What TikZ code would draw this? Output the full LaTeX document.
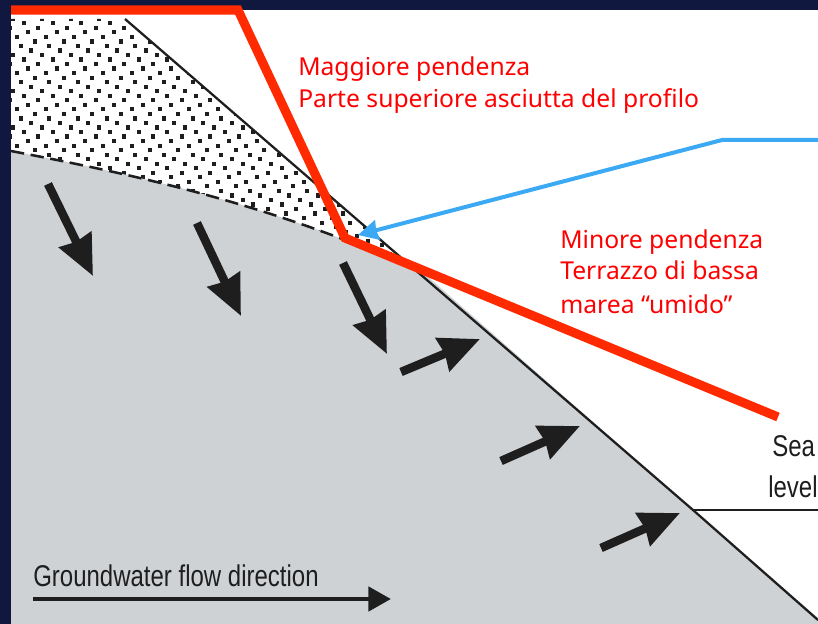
\documentclass[tikz,border=0pt]{standalone}
\usepackage{fontspec}
\setmainfont{Liberation Sans}
\newfontfamily\slidefont{Noto Sans}
\newfontfamily\printfont[FakeStretch=0.80]{Liberation Sans}
\usetikzlibrary{arrows.meta}
\definecolor{navy}{HTML}{10183F}
\definecolor{ground}{HTML}{CFD2D5}
\definecolor{inkblack}{HTML}{1E1E1E}
\definecolor{profile}{HTML}{FF2A00}
\definecolor{pointer}{HTML}{3CA9F4}
\tikzset{
  flow/.style={draw=inkblack,line width=6.4pt,-{Stealth[length=30pt,width=26pt,inset=1.5pt]}},
  legendflow/.style={draw=inkblack,line width=3.6pt,-{Stealth[length=17pt,width=18pt,inset=0pt]}},
  redlabel/.style={text=red,anchor=base west,font=\slidefont\fontsize{18.5}{23}\selectfont,inner sep=0pt},
  printlabel/.style={text=inkblack,anchor=base west,inner sep=0pt,font=\printfont\fontsize{22.5}{24}\selectfont},
}
\begin{document}
\begin{tikzpicture}[x=0.75pt,y=-0.75pt]
\useasboundingbox (0,0) rectangle (818,624);
\fill[navy] (0,0) rectangle (818,624);
\fill[white] (11,10) rectangle (818,624);

% Sand above the water table: halftone of square grains, eight-row repeat
\begin{scope}
  \clip (11,19) -- (125,19) -- (345,210) -- (420,272) -- (345,245) -- (11,150) -- cycle;
  \foreach \j in {-1,...,52}{
    \pgfmathsetmacro{\rowoff}{{24.0,9.67,28.0,17.0,6.33,20.67,2.33,13.33}[int(mod(\j+8,8))]}
    \pgfmathsetmacro{\py}{23.3+4.53*\j}
    \foreach \i in {-1,...,15}{
      \pgfmathsetmacro{\px}{\rowoff+28.67*\i}
      \fill[inkblack] (\px-2.1,\py-2.1) rectangle (\px+2.1,\py+2.1);
    }
  }
\end{scope}

% Saturated beach body
\fill[ground] (11,151) .. controls (110,170) and (225,194) .. (345,240)
  -- (418,268) -- (693,510) -- (818,618) -- (818,624) -- (11,624) -- cycle;

% Water table, beach face and sea level
\draw[inkblack,line width=1.9pt,dash pattern=on 10pt off 5pt]
  (11,151) .. controls (110,170) and (225,194) .. (345,240);
\coordinate (crest) at (125,19);
\coordinate (shore) at (693,510);
\coordinate (toe) at (818,620);
\coordinate (seaend) at (818,510);
\draw[inkblack,line width=1.7pt] (crest) -- (shore) -- (toe);
\draw[inkblack,line width=1.7pt] (shore) -- (seaend);

% Groundwater flow arrows
\draw[flow] (48,184) -- (93,276);
\draw[flow] (197,223) -- (241,316);
\draw[flow] (343,263) -- (387,354);
\draw[flow] (401,372) -- (480,339);
\draw[flow] (501,461) -- (580,426);
\draw[flow] (601,548) -- (680,513);

% Legend
\node[printlabel] (legend) at (33,586) {Groundwater flow direction};
\coordinate (legendstart) at (33,599);
\coordinate (legendend) at (391,599);
\draw[legendflow] (legendstart) -- (legendend);

% Beach profile and pointer to the break of slope
\coordinate (topleft) at (11,10);
\coordinate (topright) at (238,10);
\coordinate (slopebreak) at (345,238);
\coordinate (lowend) at (778,417);
\draw[profile,line width=6.8pt,line join=miter] (topleft) -- (topright) -- (slopebreak) -- (lowend);
\coordinate (ptrstart) at (818,140);
\coordinate (ptrknee) at (722,140);
\coordinate (ptrtip) at (358,235);
\draw[pointer,line width=3pt,-{Stealth[length=15pt,width=15pt,inset=1pt]}] (ptrstart) -- (ptrknee) -- (ptrtip);

% Labels
\node[redlabel] (steep1) at (298,76) {Maggiore pendenza};
\node[redlabel] (steep2) at (298,108) {Parte superiore asciutta del profilo};
\node[redlabel] (gentle1) at (560,248) {Minore pendenza};
\node[redlabel] (gentle2) at (560,280) {Terrazzo di bassa};
\node[redlabel] (gentle3) at (560,313) {marea “umido”};
\node[printlabel] (sea) at (772,456.5) {Sea};
\node[printlabel] (level) at (768,497) {level};
\end{tikzpicture}
\end{document}
